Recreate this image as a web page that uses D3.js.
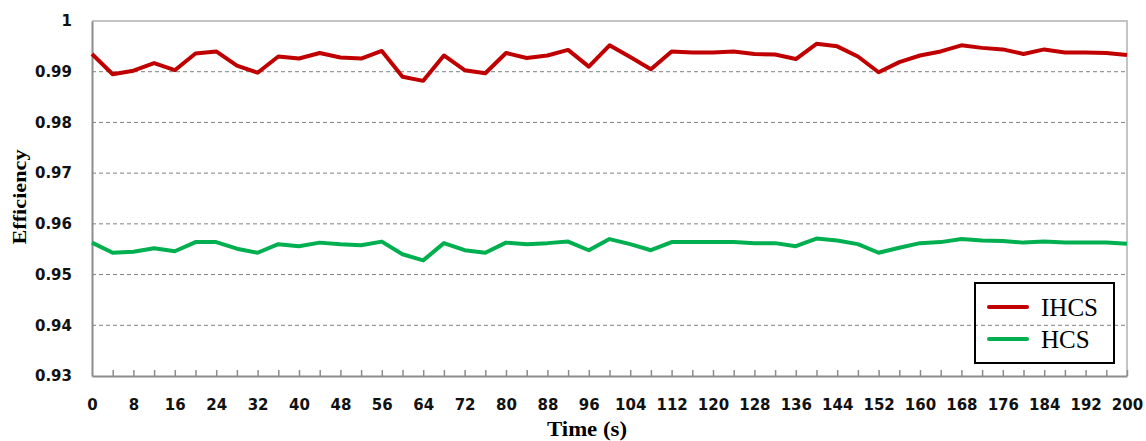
<!DOCTYPE html>
<html>
<head>
<meta charset="utf-8">
<script src="https://cdn.jsdelivr.net/npm/d3@7"></script>
<style>
  body { margin: 0; background: #fff; }
  svg { display: block; }
  .tick text { font-family: "DejaVu Sans", sans-serif; font-weight: bold; font-size: 15px; fill: #111; }
</style>
</head>
<body>
<div id="chart"></div>
<script>
// time in seconds, one sample every 4 s
const times = [0,4,8,12,16,20,24,28,32,36,40,44,48,52,56,60,64,68,72,76,80,84,88,92,96,100,
  104,108,112,116,120,124,128,132,136,140,144,148,152,156,160,164,168,172,176,180,184,188,192,196,200];

const ihcs = [0.9935,0.9895,0.9902,0.9917,0.9903,0.9936,0.9940,0.9912,0.9898,0.9930,0.9926,
  0.9937,0.9928,0.9926,0.9941,0.9890,0.9882,0.9932,0.9903,0.9897,0.9937,0.9927,0.9932,0.9943,
  0.9910,0.9952,0.9929,0.9905,0.9940,0.9938,0.9938,0.9940,0.9935,0.9934,0.9925,0.9955,0.9950,
  0.9930,0.9899,0.9919,0.9932,0.9940,0.9952,0.9947,0.9944,0.9935,0.9944,0.9938,0.9938,0.9937,0.9933];

const hcs = [0.9563,0.9543,0.9545,0.9552,0.9546,0.9564,0.9564,0.9551,0.9543,0.9560,0.9556,
  0.9563,0.9560,0.9558,0.9565,0.9540,0.9528,0.9562,0.9548,0.9543,0.9563,0.9560,0.9562,0.9565,
  0.9548,0.9570,0.9560,0.9548,0.9564,0.9564,0.9564,0.9564,0.9562,0.9562,0.9556,0.9571,0.9567,
  0.9560,0.9543,0.9553,0.9562,0.9564,0.9570,0.9567,0.9566,0.9563,0.9565,0.9563,0.9563,0.9563,0.9561];

const xLabels = d3.range(0, 201, 8);
const xMinorTicks = d3.range(4, 201, 4);
const yTicks = [0.93, 0.94, 0.95, 0.96, 0.97, 0.98, 0.99, 1];

const series = [
  { name: "IHCS", values: ihcs, color: "#c00000" },
  { name: "HCS", values: hcs, color: "#00b050" }
];

const W = 1146, H = 441;
const margin = { top: 21, right: 19, bottom: 65, left: 92 };
const width = W - margin.left - margin.right,
      height = H - margin.top - margin.bottom;

const svg = d3.select("#chart").append("svg")
    .attr("width", W)
    .attr("height", H);

const g = svg.append("g")
    .attr("transform", "translate(" + margin.left + "," + margin.top + ")");

const x = d3.scaleLinear().domain([0, 200]).range([0, width]);
const y = d3.scaleLinear().domain([0.93, 1]).range([height, 0]);

// dashed grid lines
g.append("g")
    .selectAll("line")
    .data(yTicks.filter(d => d > 0.93 && d < 1))
    .enter().append("line")
    .attr("x1", 0).attr("x2", width)
    .attr("y1", d => y(d)).attr("y2", d => y(d))
    .attr("stroke", "#808080")
    .attr("stroke-width", 1)
    .attr("stroke-dasharray", "4,3");

// top and right border
g.append("path")
    .attr("d", "M0," + y(1) + "H" + width + "V" + height)
    .attr("fill", "none")
    .attr("stroke", "#c4c4c4")
    .attr("stroke-width", 2);

// y axis
const yAxis = g.append("g")
    .call(d3.axisLeft(y).tickValues(yTicks).tickSize(0).tickPadding(20)
        .tickFormat(d => d === 1 ? "1" : d3.format(".2f")(d)));
yAxis.select(".domain").attr("stroke", "#8c8c8c").attr("stroke-width", 2);

// x axis: labels every 8, small inward ticks every 4
const xAxis = g.append("g")
    .attr("transform", "translate(0," + height + ")")
    .call(d3.axisBottom(x).tickValues(xLabels).tickSize(0).tickPadding(23).tickFormat(d3.format("d")));
xAxis.select(".domain").attr("stroke", "#8c8c8c").attr("stroke-width", 2);

g.append("g")
    .attr("transform", "translate(0," + height + ")")
    .call(d3.axisBottom(x).tickValues(xMinorTicks).tickSize(-6).tickFormat(""))
    .call(s => s.select(".domain").remove())
    .selectAll("line").attr("stroke", "#8c8c8c").attr("stroke-width", 1.5);

// lines
const line = d3.line()
    .x((d, i) => x(times[i]))
    .y(d => y(d));

g.selectAll(".series")
    .data(series)
    .enter().append("path")
    .attr("class", "series")
    .attr("fill", "none")
    .attr("stroke", d => d.color)
    .attr("stroke-width", 4)
    .attr("stroke-linejoin", "round")
    .attr("d", d => line(d.values));

// axis titles
svg.append("text")
    .attr("x", 587)
    .attr("y", 436)
    .attr("text-anchor", "middle")
    .attr("textLength", 80)
    .attr("lengthAdjust", "spacingAndGlyphs")
    .style("font-family", "'Liberation Serif', 'Times New Roman', serif")
    .style("font-weight", "bold")
    .style("font-size", "20px")
    .text("Time (s)");

svg.append("text")
    .attr("transform", "translate(26,197) rotate(-90)")
    .attr("text-anchor", "middle")
    .attr("textLength", 95)
    .attr("lengthAdjust", "spacingAndGlyphs")
    .style("font-family", "'Liberation Serif', 'Times New Roman', serif")
    .style("font-weight", "bold")
    .style("font-size", "19px")
    .text("Efficiency");

// legend
const legend = svg.append("g").attr("transform", "translate(975,283)");
legend.append("rect")
    .attr("width", 139).attr("height", 80)
    .attr("fill", "none")
    .attr("stroke", "#000")
    .attr("stroke-width", 2);

const item = legend.selectAll(".item")
    .data(series)
    .enter().append("g")
    .attr("transform", (d, i) => "translate(0," + (24 + i * 32) + ")");

item.append("line")
    .attr("x1", 14).attr("x2", 52)
    .attr("stroke", d => d.color)
    .attr("stroke-width", 4)
    .attr("stroke-linecap", "round");

item.append("text")
    .attr("x", 66).attr("y", 9)
    .style("font-family", "'Liberation Serif', 'Times New Roman', serif")
    .style("font-size", "25px")
    .text(d => d.name);
</script>
</body>
</html>
